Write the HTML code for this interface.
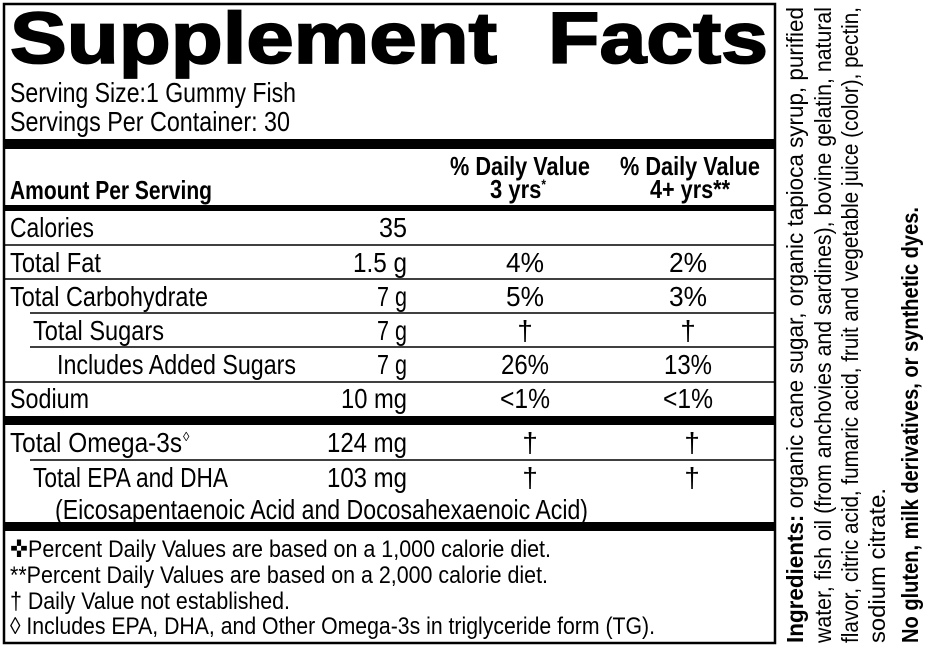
<!DOCTYPE html>
<html><head><meta charset="utf-8"><style>
html,body{margin:0;padding:0;background:#fff;}
svg{display:block;}
text{font-family:"Liberation Sans",sans-serif;fill:#000;}
</style></head><body>
<svg width="925" height="650" viewBox="0 0 925 650" xmlns="http://www.w3.org/2000/svg">
<rect x="4" y="4" width="771" height="639" fill="none" stroke="#000" stroke-width="2.5"/>
<text x="10" y="63" font-size="72" font-weight="bold" stroke="#000" stroke-width="1.8" textLength="487" lengthAdjust="spacingAndGlyphs">Supplement</text>
<text x="548" y="63" font-size="72" font-weight="bold" stroke="#000" stroke-width="1.8" textLength="220" lengthAdjust="spacingAndGlyphs">Facts</text>
<text x="10" y="102" font-size="28" textLength="286" lengthAdjust="spacingAndGlyphs">Serving Size:1 Gummy Fish</text>
<text x="10" y="131" font-size="28" textLength="280" lengthAdjust="spacingAndGlyphs">Servings Per Container: 30</text>
<rect x="4" y="139" width="771" height="10" fill="#000"/>
<text x="10" y="199" font-size="26" font-weight="bold" textLength="202" lengthAdjust="spacingAndGlyphs">Amount Per Serving</text>
<text x="450" y="175" font-size="26" font-weight="bold" textLength="140" lengthAdjust="spacingAndGlyphs">% Daily Value</text>
<text x="490" y="198" font-size="26" font-weight="bold" textLength="56" lengthAdjust="spacingAndGlyphs">3 yrs<tspan font-size="14" dy="-9">*</tspan></text>
<text x="620" y="175" font-size="26" font-weight="bold" textLength="140" lengthAdjust="spacingAndGlyphs">% Daily Value</text>
<text x="650" y="198" font-size="26" font-weight="bold" textLength="80" lengthAdjust="spacingAndGlyphs">4+ yrs**</text>
<rect x="4" y="205" width="771" height="6" fill="#000"/>
<g font-size="28">
<text x="10" y="237" textLength="84" lengthAdjust="spacingAndGlyphs">Calories</text>
<text x="407" y="237" text-anchor="end" textLength="28" lengthAdjust="spacingAndGlyphs">35</text>
<line x1="4" y1="245" x2="775" y2="245" stroke="#000" stroke-width="1.5"/>
<text x="10" y="272" textLength="91" lengthAdjust="spacingAndGlyphs">Total Fat</text>
<text x="407" y="272" text-anchor="end" textLength="54" lengthAdjust="spacingAndGlyphs">1.5 g</text>
<text x="525" y="272" text-anchor="middle" textLength="38" lengthAdjust="spacingAndGlyphs">4%</text>
<text x="688" y="272" text-anchor="middle" textLength="38" lengthAdjust="spacingAndGlyphs">2%</text>
<line x1="4" y1="279" x2="775" y2="279" stroke="#000" stroke-width="1.5"/>
<text x="10" y="306" textLength="198" lengthAdjust="spacingAndGlyphs">Total Carbohydrate</text>
<text x="407" y="306" text-anchor="end" textLength="30" lengthAdjust="spacingAndGlyphs">7 g</text>
<text x="525" y="306" text-anchor="middle" textLength="38" lengthAdjust="spacingAndGlyphs">5%</text>
<text x="688" y="306" text-anchor="middle" textLength="38" lengthAdjust="spacingAndGlyphs">3%</text>
<line x1="30" y1="313" x2="775" y2="313" stroke="#000" stroke-width="1.5"/>
<text x="33" y="340" textLength="131" lengthAdjust="spacingAndGlyphs">Total Sugars</text>
<text x="407" y="340" text-anchor="end" textLength="30" lengthAdjust="spacingAndGlyphs">7 g</text>
<text x="525" y="340" text-anchor="middle">†</text>
<text x="688" y="340" text-anchor="middle">†</text>
<line x1="30" y1="347" x2="775" y2="347" stroke="#000" stroke-width="1.5"/>
<text x="57" y="374" textLength="239" lengthAdjust="spacingAndGlyphs">Includes Added Sugars</text>
<text x="407" y="374" text-anchor="end" textLength="30" lengthAdjust="spacingAndGlyphs">7 g</text>
<text x="525" y="374" text-anchor="middle" textLength="48" lengthAdjust="spacingAndGlyphs">26%</text>
<text x="688" y="374" text-anchor="middle" textLength="48" lengthAdjust="spacingAndGlyphs">13%</text>
<line x1="4" y1="382" x2="775" y2="382" stroke="#000" stroke-width="1.5"/>
<text x="10" y="408" textLength="79" lengthAdjust="spacingAndGlyphs">Sodium</text>
<text x="407" y="408" text-anchor="end" textLength="66" lengthAdjust="spacingAndGlyphs">10 mg</text>
<text x="525" y="408" text-anchor="middle" textLength="50" lengthAdjust="spacingAndGlyphs">&lt;1%</text>
<text x="688" y="408" text-anchor="middle" textLength="50" lengthAdjust="spacingAndGlyphs">&lt;1%</text>
<rect x="4" y="416" width="771" height="9" fill="#000"/>
<text x="10" y="452" textLength="172" lengthAdjust="spacingAndGlyphs">Total Omega-3s</text>
<text x="183" y="441" font-size="13">◊</text>
<text x="407" y="452" text-anchor="end" textLength="80" lengthAdjust="spacingAndGlyphs">124 mg</text>
<text x="530" y="452" text-anchor="middle">†</text>
<text x="692" y="452" text-anchor="middle">†</text>
<line x1="30" y1="460" x2="775" y2="460" stroke="#000" stroke-width="1.5"/>
<text x="33" y="487" textLength="195" lengthAdjust="spacingAndGlyphs">Total EPA and DHA</text>
<text x="407" y="487" text-anchor="end" textLength="80" lengthAdjust="spacingAndGlyphs">103 mg</text>
<text x="530" y="487" text-anchor="middle">†</text>
<text x="692" y="487" text-anchor="middle">†</text>
<text x="55" y="519" textLength="533" lengthAdjust="spacingAndGlyphs">(Eicosapentaenoic Acid and Docosahexaenoic Acid)</text>
</g>
<rect x="4" y="522" width="771" height="9" fill="#000"/>
<g font-size="24">
<text x="10" y="557" textLength="541" lengthAdjust="spacingAndGlyphs">✜Percent Daily Values are based on a 1,000 calorie diet.</text>
<text x="10" y="583" textLength="538" lengthAdjust="spacingAndGlyphs">**Percent Daily Values are based on a 2,000 calorie diet.</text>
<text x="10" y="609" textLength="280" lengthAdjust="spacingAndGlyphs">† Daily Value not established.</text>
<text x="10" y="634" textLength="645" lengthAdjust="spacingAndGlyphs">◊ Includes EPA, DHA, and Other Omega-3s in triglyceride form (TG).</text>
</g>
<g font-size="23">
<text transform="translate(803,643) rotate(-90)" x="0" y="0" textLength="636" lengthAdjust="spacingAndGlyphs"><tspan font-weight="bold">Ingredients:</tspan> organic cane sugar, organic tapioca syrup, purified</text>
<text transform="translate(831,643) rotate(-90)" x="0" y="0" textLength="636" lengthAdjust="spacingAndGlyphs">water, fish oil (from anchovies and sardines), bovine gelatin, natural</text>
<text transform="translate(858,643) rotate(-90)" x="0" y="0" textLength="636" lengthAdjust="spacingAndGlyphs">flavor, citric acid, fumaric acid, fruit and vegetable juice (color), pectin,</text>
<text transform="translate(885,643) rotate(-90)" x="0" y="0" textLength="155" lengthAdjust="spacingAndGlyphs">sodium citrate.</text>
<text transform="translate(918,643) rotate(-90)" x="0" y="0" font-weight="bold" textLength="436" lengthAdjust="spacingAndGlyphs">No gluten, milk derivatives, or synthetic dyes.</text>
</g>
</svg>
</body></html>
